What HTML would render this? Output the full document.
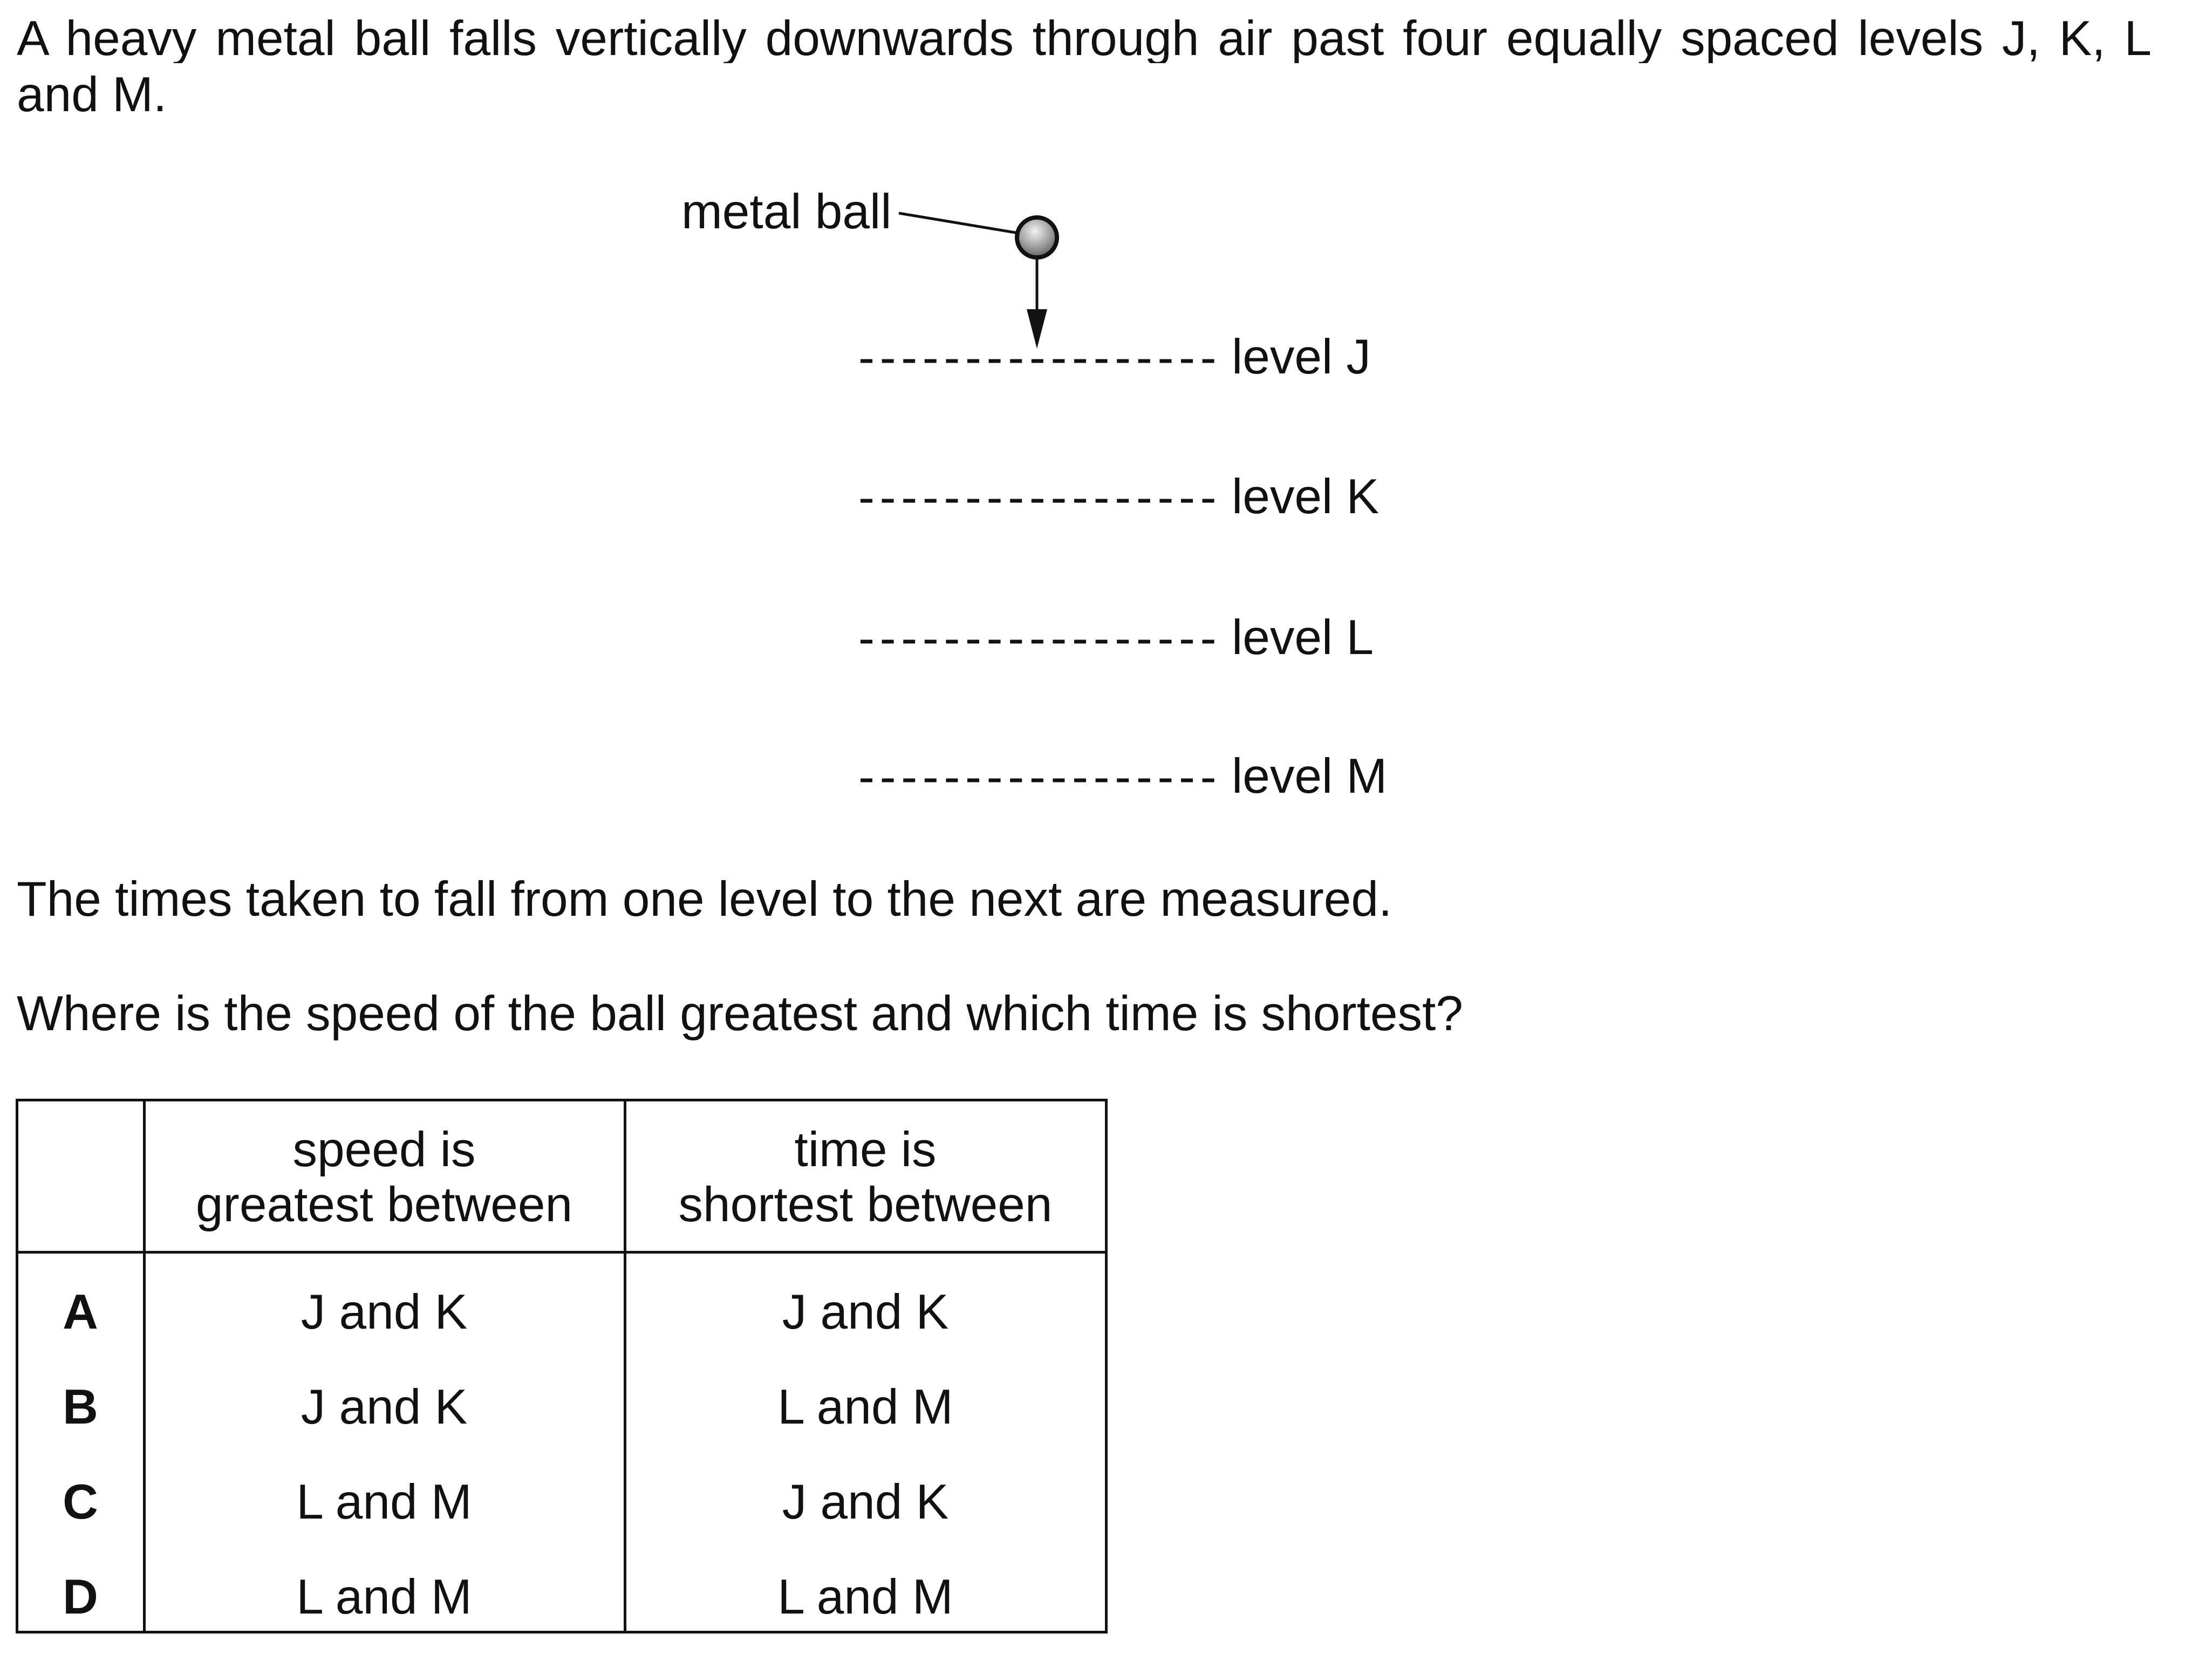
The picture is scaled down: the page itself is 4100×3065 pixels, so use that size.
<!DOCTYPE html>
<html><head><meta charset="utf-8"><style>
body{margin:0;width:4100px;height:3065px;background:#fff;position:relative;overflow:hidden;font-family:"Liberation Sans",Arial,sans-serif;color:#111}
.t{position:absolute;font-size:91px;line-height:91px;white-space:nowrap}
.c{transform:translateX(-50%);text-align:center}
.b{font-weight:bold}
.h{position:absolute;background:#111}
</style></head><body>
<div class="t" style="left:31px;top:26px;width:3957px;text-align:justify;text-align-last:justify;white-space:normal;height:91px;overflow:hidden">A heavy metal ball falls vertically downwards through air past four equally spaced levels J, K, L</div>
<div class="t" style="left:31px;top:130px">and M.</div>

<svg style="position:absolute;left:0;top:0" width="4100" height="1600">
<defs><radialGradient id="g" cx="0.45" cy="0.35" r="0.7"><stop offset="0" stop-color="#f2f2f2"/><stop offset="0.6" stop-color="#999"/><stop offset="1" stop-color="#555"/></radialGradient></defs>
<line x1="1666" y1="395" x2="1888" y2="432" stroke="#111" stroke-width="5"/>
<circle cx="1922" cy="440" r="37" fill="url(#g)" stroke="#111" stroke-width="8"/>
<line x1="1922" y1="480" x2="1922" y2="580" stroke="#111" stroke-width="5"/>
<polygon points="1903,573 1941,573 1922,646" fill="#111"/>
<g stroke="#111" stroke-width="7" stroke-dasharray="22 17.6">
<line x1="1595" y1="669" x2="2251" y2="669"/>
<line x1="1595" y1="928" x2="2251" y2="928"/>
<line x1="1595" y1="1189" x2="2251" y2="1189"/>
<line x1="1595" y1="1446" x2="2251" y2="1446"/>
</g>
</svg>
<div class="t" style="left:1263px;top:347px">metal ball</div>
<div class="t" style="left:2283px;top:616px">level J</div>
<div class="t" style="left:2283px;top:875px">level K</div>
<div class="t" style="left:2283px;top:1136px">level L</div>
<div class="t" style="left:2283px;top:1393px">level M</div>

<div class="t" style="left:31px;top:1621px">The times taken to fall from one level to the next are measured.</div>
<div class="t" style="left:31px;top:1833px">Where is the speed of the ball greatest and which time is shortest?</div>

<div class="h" style="left:29px;top:2036px;width:2024px;height:5px"></div>
<div class="h" style="left:29px;top:2318px;width:2024px;height:5px"></div>
<div class="h" style="left:29px;top:3022px;width:2024px;height:5px"></div>
<div class="h" style="left:29px;top:2036px;width:5px;height:991px"></div>
<div class="h" style="left:265px;top:2036px;width:5px;height:991px"></div>
<div class="h" style="left:1156px;top:2036px;width:5px;height:991px"></div>
<div class="h" style="left:2048px;top:2036px;width:5px;height:991px"></div>

<div class="t c" style="left:712px;top:2085px">speed is</div>
<div class="t c" style="left:712px;top:2187px">greatest between</div>
<div class="t c" style="left:1604px;top:2085px">time is</div>
<div class="t c" style="left:1604px;top:2187px">shortest between</div>

<div class="t c b" style="left:149px;top:2386px">A</div>
<div class="t c b" style="left:149px;top:2562px">B</div>
<div class="t c b" style="left:149px;top:2738px">C</div>
<div class="t c b" style="left:149px;top:2914px">D</div>

<div class="t c" style="left:712px;top:2386px">J and K</div>
<div class="t c" style="left:712px;top:2562px">J and K</div>
<div class="t c" style="left:712px;top:2738px">L and M</div>
<div class="t c" style="left:712px;top:2914px">L and M</div>
<div class="t c" style="left:1604px;top:2386px">J and K</div>
<div class="t c" style="left:1604px;top:2562px">L and M</div>
<div class="t c" style="left:1604px;top:2738px">J and K</div>
<div class="t c" style="left:1604px;top:2914px">L and M</div>
</body></html>
